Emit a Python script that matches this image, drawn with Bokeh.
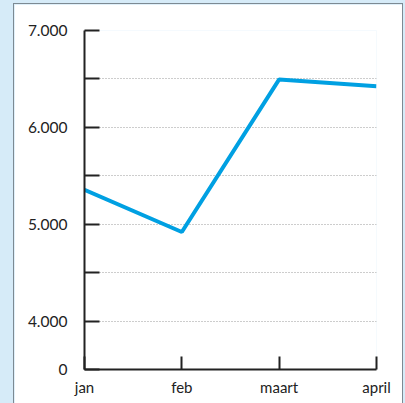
from bokeh.plotting import figure
from bokeh.models import Range1d, FixedTicker
from bokeh.embed import file_html
from bokeh.resources import INLINE

months = ["jan", "feb", "maart", "april"]
values = [5355, 4920, 6495, 6425]
y_ticks = [3500, 4000, 4500, 5000, 5500, 6000, 6500, 7000]
y_labels = ["0", "4.000", "", "5.000", "", "6.000", "", "7.000"]
grid_ticks = [4000, 4500, 5000, 5500, 6000, 6500, 7000]

xs = list(range(len(months)))

BG = "#d6ebf8"

p = figure(width=390, height=402, output_backend="svg", toolbar_location=None,
           x_range=Range1d(0, len(months) - 1), y_range=Range1d(3500, 7000),
           min_border_left=70, min_border_right=28, min_border_top=26, min_border_bottom=37)
p.background_fill_color = "white"
p.border_fill_color = "white"
p.outline_line_color = None
p.styles = {"border": "1.5px solid #7d8a93", "box-sizing": "border-box"}

p.line(xs, values, line_color="#00a0e2", line_width=4)

# y axis
p.yaxis.ticker = FixedTicker(ticks=y_ticks)
p.yaxis.major_label_overrides = {t: l for t, l in zip(y_ticks, y_labels)}
p.yaxis.major_tick_in = 15
p.yaxis.major_tick_out = 0
p.yaxis.minor_tick_line_color = None
p.yaxis.axis_line_width = 2
p.yaxis.major_tick_line_width = 2
p.yaxis.axis_line_color = "#222222"
p.yaxis.major_tick_line_color = "#222222"
p.yaxis.major_label_standoff = 17
p.yaxis.major_label_text_font = "Lato"
p.yaxis.major_label_text_font_size = "15.5px"
p.yaxis.major_label_text_color = "#222222"

# x axis
p.xaxis.ticker = FixedTicker(ticks=xs)
p.xaxis.major_label_overrides = {i: m for i, m in zip(xs, months)}
p.xaxis.major_tick_in = 13
p.xaxis.major_tick_out = 0
p.xaxis.minor_tick_line_color = None
p.xaxis.axis_line_width = 2
p.xaxis.major_tick_line_width = 2
p.xaxis.axis_line_color = "#222222"
p.xaxis.major_tick_line_color = "#222222"
p.xaxis.major_label_standoff = 8
p.xaxis.major_label_text_font = "Lato"
p.xaxis.major_label_text_font_size = "15px"
p.xaxis.major_label_text_color = "#222222"

# grids
p.xgrid.grid_line_color = None
p.ygrid.ticker = FixedTicker(ticks=grid_ticks)
p.ygrid.grid_line_color = "#9a9a9a"
p.ygrid.grid_line_dash = "1 2"
p.ygrid.grid_line_width = 1

html = file_html(p, INLINE)
html = html.replace("</head>", "<style>html, body { margin: 0; padding: 0; background-color: %s; overflow: hidden; } body { padding: 3px 0 0 13px; }</style></head>" % BG, 1)
open("out.html", "w").write(html)
